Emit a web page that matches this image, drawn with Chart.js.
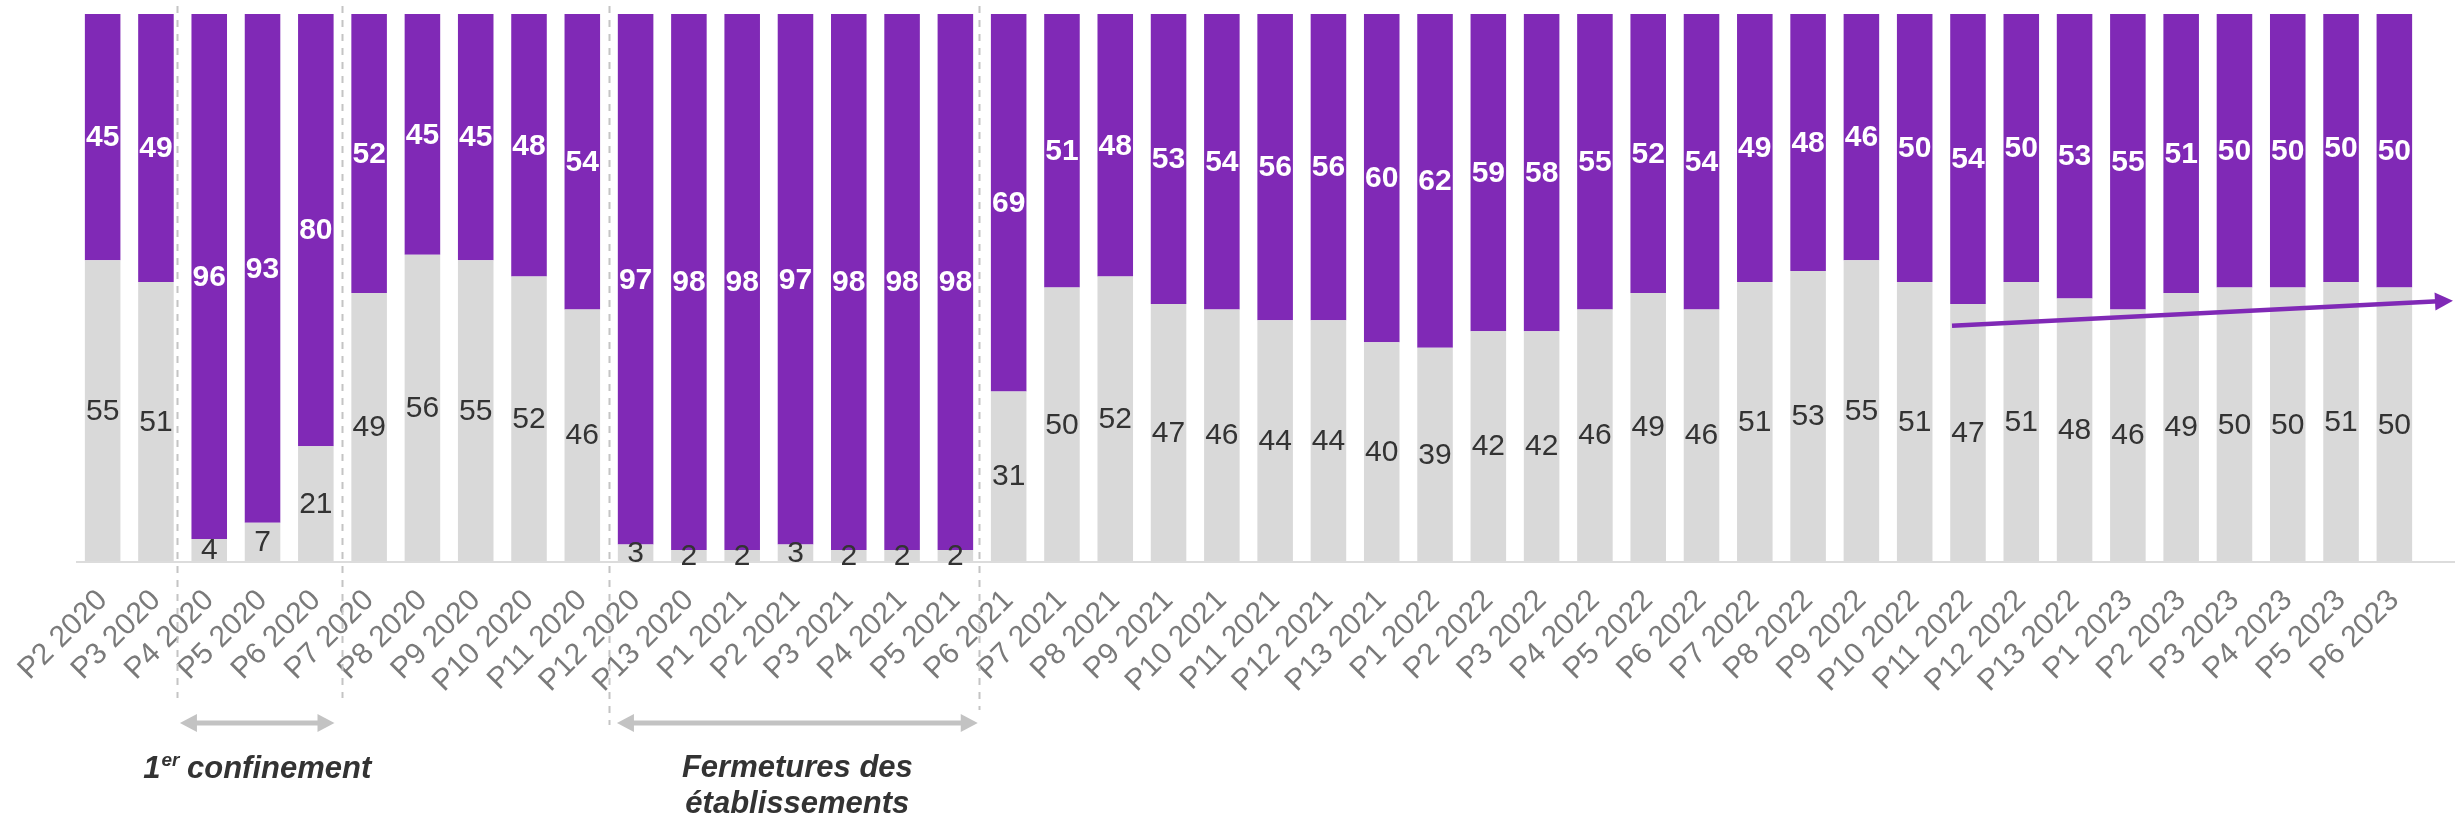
<!DOCTYPE html>
<html>
<head>
  <title>Répartition par période</title>
  <script src="https://cdn.jsdelivr.net/npm/chart.js"></script>
  <style>
    html, body { margin: 0; padding: 0; background: #fff; }
    #wrap { width: 2455px; height: 819px; }
  </style>
</head>
<body>
  <div id="wrap"><canvas id="periodes"></canvas></div>
  <script>
    // Periods (x axis)
    const periodes = [
      'P2 2020', 'P3 2020', 'P4 2020', 'P5 2020', 'P6 2020', 'P7 2020', 'P8 2020', 'P9 2020',
      'P10 2020', 'P11 2020', 'P12 2020', 'P13 2020',
      'P1 2021', 'P2 2021', 'P3 2021', 'P4 2021', 'P5 2021', 'P6 2021', 'P7 2021', 'P8 2021',
      'P9 2021', 'P10 2021', 'P11 2021', 'P12 2021', 'P13 2021',
      'P1 2022', 'P2 2022', 'P3 2022', 'P4 2022', 'P5 2022', 'P6 2022', 'P7 2022', 'P8 2022',
      'P9 2022', 'P10 2022', 'P11 2022', 'P12 2022', 'P13 2022',
      'P1 2023', 'P2 2023', 'P3 2023', 'P4 2023', 'P5 2023', 'P6 2023'
    ];

    // Grey share (bottom) and purple share (top), in %
    const partGris = [55, 51, 4, 7, 21, 49, 56, 55, 52, 46, 3, 2, 2, 3, 2, 2, 2, 31, 50, 52, 47, 46,
      44, 44, 40, 39, 42, 42, 46, 49, 46, 51, 53, 55, 51, 47, 51, 48, 46, 49, 50, 50, 51, 50];
    const partViolet = [45, 49, 96, 93, 80, 52, 45, 45, 48, 54, 97, 98, 98, 97, 98, 98, 98, 69, 51, 48, 53, 54,
      56, 56, 60, 62, 59, 58, 55, 52, 54, 49, 48, 46, 50, 54, 50, 53, 55, 51, 50, 50, 50, 50];

    // Annotations, in category index units
    const separateurs = [1.4, 4.5, 9.5, 16.45];
    const confinement = [1.45, 4.35];
    const fermetures = [9.65, 16.42];
    const tendance = [[34.7, 43], [44.1, 47.6]];

    const FONT = "'Liberation Sans', Arial, Helvetica, sans-serif";
    const VIOLET = '#8029b6';
    const GRIS = '#d9d9d9';

    function fleche(ctx, x1, y1, x2, y2, epaisseur, tete, demi, couleur, double) {
      const a = Math.atan2(y2 - y1, x2 - x1);
      const cos = Math.cos(a), sin = Math.sin(a);
      ctx.save();
      ctx.strokeStyle = couleur;
      ctx.fillStyle = couleur;
      ctx.lineWidth = epaisseur;
      ctx.beginPath();
      const sx = double ? x1 + cos * tete * 0.8 : x1;
      const sy = double ? y1 + sin * tete * 0.8 : y1;
      ctx.moveTo(sx, sy);
      ctx.lineTo(x2 - cos * tete * 0.8, y2 - sin * tete * 0.8);
      ctx.stroke();
      const pointe = (px, py, dx, dy) => {
        ctx.beginPath();
        ctx.moveTo(px, py);
        ctx.lineTo(px - dx * tete - dy * demi, py - dy * tete + dx * demi);
        ctx.lineTo(px - dx * tete + dy * demi, py - dy * tete - dx * demi);
        ctx.closePath();
        ctx.fill();
      };
      pointe(x2, y2, cos, sin);
      if (double) pointe(x1, y1, -cos, -sin);
      ctx.restore();
    }

    const annotations = {
      id: 'annotations',
      beforeDatasetsDraw(chart) {
        const ctx = chart.ctx;
        const x = chart.scales.x;
        const area = chart.chartArea;
        const fins = [698, 698, 725, 710];
        ctx.save();
        ctx.strokeStyle = '#c4c4c4';
        ctx.lineWidth = 2;
        ctx.setLineDash([7, 7]);
        separateurs.forEach((s, i) => {
          const px = Math.round(x.getPixelForValue(s)) + 0.5;
          ctx.beginPath();
          ctx.moveTo(px, 6);
          ctx.lineTo(px, fins[i]);
          ctx.stroke();
        });
        ctx.setLineDash([]);
        // baseline running to the right edge
        ctx.strokeStyle = '#dcdcdc';
        ctx.lineWidth = 2;
        ctx.beginPath();
        ctx.moveTo(area.left, area.bottom + 1);
        ctx.lineTo(chart.width, area.bottom + 1);
        ctx.stroke();
        ctx.restore();
      },
      afterDatasetsDraw(chart) {
        const ctx = chart.ctx;
        const area = chart.chartArea;
        const x = chart.scales.x, y = chart.scales.y;

        // value labels
        ctx.save();
        ctx.textAlign = 'center';
        ctx.textBaseline = 'middle';
        chart.data.datasets.forEach((ds, d) => {
          const meta = chart.getDatasetMeta(d);
          ctx.font = (d === 1 ? 'bold ' : '') + '30px ' + FONT;
          ctx.fillStyle = d === 1 ? '#ffffff' : '#333333';
          meta.data.forEach((bar, i) => {
            const top = Math.max(bar.y, area.top);
            const cy = (top + bar.base) / 2;
            ctx.fillText(String(ds.data[i]), bar.x, cy + 1);
          });
        });
        ctx.restore();

        // period arrows
        fleche(ctx, x.getPixelForValue(confinement[0]), 723, x.getPixelForValue(confinement[1]), 723, 5, 17, 9, '#c3c3c3', true);
        fleche(ctx, x.getPixelForValue(fermetures[0]), 723, x.getPixelForValue(fermetures[1]), 723, 5, 17, 9, '#c3c3c3', true);

        // trend arrow
        fleche(ctx, x.getPixelForValue(tendance[0][0]), y.getPixelForValue(tendance[0][1]),
          Math.min(chart.width, x.getPixelForValue(tendance[1][0])), y.getPixelForValue(tendance[1][1]),
          4.5, 18, 9, VIOLET, false);

        // captions
        ctx.save();
        ctx.fillStyle = '#333333';
        ctx.textBaseline = 'alphabetic';
        const big = 'italic bold 31px ' + FONT;
        const small = 'italic bold 19px ' + FONT;
        ctx.font = big;
        const w1 = ctx.measureText('1').width;
        const w3 = ctx.measureText(' confinement').width;
        ctx.font = small;
        const w2 = ctx.measureText('er').width;
        const cx1 = (x.getPixelForValue(confinement[0]) + x.getPixelForValue(confinement[1])) / 2;
        let sx = cx1 - (w1 + w2 + w3) / 2;
        ctx.textAlign = 'left';
        ctx.font = big;
        ctx.fillText('1', sx, 778);
        ctx.font = small;
        ctx.fillText('er', sx + w1 + 1, 766);
        ctx.font = big;
        ctx.fillText(' confinement', sx + w1 + w2, 778);

        const cx2 = (x.getPixelForValue(fermetures[0]) + x.getPixelForValue(fermetures[1])) / 2;
        ctx.textAlign = 'center';
        ctx.fillText('Fermetures des', cx2, 777);
        ctx.fillText('établissements', cx2, 813);
        ctx.restore();
      }
    };

    const ctx = document.getElementById('periodes').getContext('2d');
    new Chart(ctx, {
      type: 'bar',
      data: {
        labels: periodes,
        datasets: [
          { data: partGris, backgroundColor: GRIS, barPercentage: 0.667, categoryPercentage: 1 },
          { data: partViolet, backgroundColor: VIOLET, barPercentage: 0.667, categoryPercentage: 1 }
        ]
      },
      options: {
        responsive: true,
        maintainAspectRatio: false,
        animation: false,
        layout: { padding: { left: 76, right: 34, top: 14, bottom: 0 } },
        plugins: { legend: { display: false }, tooltip: { enabled: false } },
        scales: {
          x: {
            stacked: true,
            grid: { display: false },
            border: { display: false },
            ticks: {
              color: '#7a7a7a',
              font: { family: FONT, size: 30 },
              minRotation: 45,
              maxRotation: 45,
              autoSkip: false,
              padding: 14
            },
            afterFit(scale) { scale.height = 258; }
          },
          y: { stacked: true, display: false, min: 0, max: 100 }
        }
      },
      plugins: [annotations]
    });
  </script>
</body>
</html>
